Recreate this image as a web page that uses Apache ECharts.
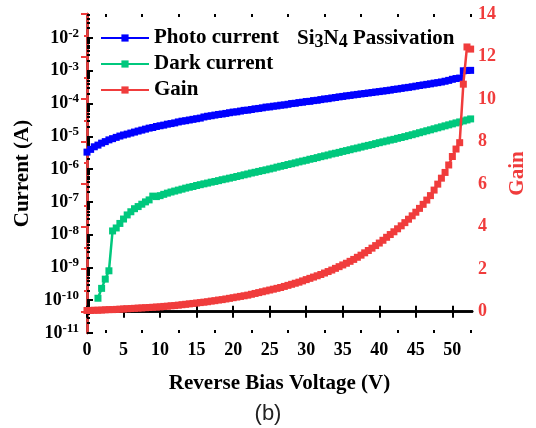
<!DOCTYPE html>
<html><head><meta charset="utf-8">
<script src="https://cdn.jsdelivr.net/npm/echarts@6/dist/echarts.min.js"></script>
<style>html,body{margin:0;padding:0;background:#fff}#c{width:536px;height:428px}</style>
</head><body><div id="c"></div>
<script>
const voltage = [0,0.5,1,1.5,2,2.5,3,3.5,4,4.5,5,5.5,6,6.5,7,7.5,8,8.5,9,9.5,10,10.5,11,11.5,12,12.5,13,13.5,14,14.5,15,15.5,16,16.5,17,17.5,18,18.5,19,19.5,20,20.5,21,21.5,22,22.5,23,23.5,24,24.5,25,25.5,26,26.5,27,27.5,28,28.5,29,29.5,30,30.5,31,31.5,32,32.5,33,33.5,34,34.5,35,35.5,36,36.5,37,37.5,38,38.5,39,39.5,40,40.5,41,41.5,42,42.5,43,43.5,44,44.5,45,45.5,46,46.5,47,47.5,48,48.5,49,49.5,50,50.5,51,51.5,52,52.5];
const photoCurrent = [
3.3e-6,4.0e-6,4.8e-6,5.4e-6,6.2e-6,6.9e-6,7.8e-6,8.5e-6,9.3e-6,1.02e-5,
1.10e-5,1.17e-5,1.26e-5,1.35e-5,1.45e-5,1.55e-5,1.66e-5,1.78e-5,1.86e-5,2.0e-5,
2.1e-5,2.2e-5,2.35e-5,2.45e-5,2.57e-5,2.75e-5,2.9e-5,3.0e-5,3.15e-5,3.3e-5,
3.45e-5,3.6e-5,3.9e-5,4.1e-5,4.25e-5,4.45e-5,4.65e-5,4.8e-5,5.0e-5,5.25e-5,
5.5e-5,5.6e-5,5.9e-5,6.2e-5,6.3e-5,6.6e-5,6.9e-5,7.1e-5,7.4e-5,7.8e-5,
7.9e-5,8.3e-5,8.5e-5,8.9e-5,9.1e-5,9.5e-5,1.0e-4,1.02e-4,1.07e-4,1.10e-4,
1.15e-4,1.17e-4,1.23e-4,1.26e-4,1.32e-4,1.38e-4,1.41e-4,1.48e-4,1.53e-4,1.6e-4,
1.65e-4,1.72e-4,1.77e-4,1.84e-4,1.9e-4,1.97e-4,2.03e-4,2.1e-4,2.17e-4,2.25e-4,
2.32e-4,2.4e-4,2.48e-4,2.57e-4,2.7e-4,2.78e-4,2.9e-4,3.02e-4,3.12e-4,3.25e-4,
3.4e-4,3.55e-4,3.7e-4,3.85e-4,4.0e-4,4.2e-4,4.35e-4,4.55e-4,4.8e-4,5.1e-4,
5.5e-4,5.8e-4,6.0e-4,1.0e-3,1.02e-3,1.03e-3];
const darkCurrent = [
null,null,null,1.15e-10,2.3e-10,4.4e-10,7.9e-10,1.3e-8,1.6e-8,2.2e-8,
3.0e-8,4.0e-8,5.0e-8,6.2e-8,7.2e-8,8.5e-8,1.0e-7,1.15e-7,1.5e-7,1.45e-7,
1.55e-7,1.7e-7,1.85e-7,2.0e-7,2.14e-7,2.29e-7,2.45e-7,2.63e-7,2.8e-7,2.95e-7,
3.16e-7,3.35e-7,3.55e-7,3.75e-7,4.0e-7,4.2e-7,4.45e-7,4.75e-7,5.0e-7,5.3e-7,
5.6e-7,5.95e-7,6.3e-7,6.7e-7,7.1e-7,7.6e-7,8.0e-7,8.5e-7,9.0e-7,9.5e-7,
1.01e-6,1.07e-6,1.15e-6,1.22e-6,1.29e-6,1.38e-6,1.46e-6,1.55e-6,1.66e-6,1.76e-6,
1.86e-6,2.0e-6,2.1e-6,2.24e-6,2.4e-6,2.54e-6,2.7e-6,2.9e-6,3.05e-6,3.24e-6,
3.47e-6,3.67e-6,3.9e-6,4.17e-6,4.4e-6,4.7e-6,5.0e-6,5.3e-6,5.6e-6,6.0e-6,
6.4e-6,6.8e-6,7.2e-6,7.7e-6,8.1e-6,8.7e-6,9.2e-6,9.8e-6,1.05e-5,1.12e-5,
1.2e-5,1.29e-5,1.38e-5,1.48e-5,1.58e-5,1.7e-5,1.82e-5,1.95e-5,2.09e-5,2.24e-5,
2.4e-5,2.57e-5,2.75e-5,2.95e-5,3.16e-5,3.4e-5];
const gain = [
0.06,0.06,0.07,0.07,0.08,0.09,0.10,0.10,0.11,0.12,
0.13,0.14,0.15,0.16,0.17,0.18,0.19,0.20,0.21,0.22,
0.23,0.25,0.26,0.28,0.29,0.31,0.33,0.35,0.37,0.39,
0.41,0.43,0.45,0.47,0.50,0.52,0.55,0.57,0.60,0.63,
0.66,0.69,0.72,0.75,0.78,0.82,0.86,0.90,0.94,0.98,
1.02,1.06,1.10,1.14,1.19,1.24,1.29,1.34,1.39,1.45,
1.51,1.57,1.63,1.69,1.75,1.82,1.89,1.96,2.04,2.12,
2.20,2.28,2.37,2.46,2.56,2.66,2.77,2.88,2.99,3.11,
3.23,3.36,3.50,3.63,3.76,3.90,4.04,4.19,4.35,4.51,
4.68,4.86,5.05,5.25,5.46,5.72,6.00,6.28,6.55,6.90,
7.30,7.65,7.95,10.7,12.45,12.35];

const seriesNames = ['Photo current', 'Dark current', 'Gain'];
const xTicks = [0,5,10,15,20,25,30,35,40,45,50];
const xMinorTicks = [2.5,7.5,12.5,17.5,22.5,27.5,32.5,37.5,42.5,47.5,52.5];
const currentTicks = [1e-11,1e-10,1e-9,1e-8,1e-7,1e-6,1e-5,1e-4,1e-3,1e-2];
const currentMinorMultipliers = [2,3,4,5,6,7,8,9];
const gainTicks = [0,2,4,6,8,10,12,14];
const gainMinorTicks = [1,3,5,7,9,11,13];

const FONT = '"Liberation Serif","Times New Roman",serif';
const RED = '#F03C3C';
const currentMinorTicks = [];
currentTicks.forEach(function (d) {
  currentMinorMultipliers.forEach(function (m) {
    const v = d * m;
    if (v < 0.054) currentMinorTicks.push(v);
  });
});
function pairs(xs, ys) {
  const out = [];
  for (let i = 0; i < xs.length; i++) if (ys[i] != null) out.push([xs[i], ys[i]]);
  return out;
}
const chart = echarts.init(document.getElementById('c'), null, {renderer: 'canvas'});
const xBase = {type: 'value', min: 0, max: 52.7, splitLine: {show: false}};
const yLogBase = {type: 'log', logBase: 10, min: 1e-11, max: 0.054, splitLine: {show: false}};
const yGainBase = {type: 'value', min: -1, max: 14, splitLine: {show: false}};
chart.setOption({
  animation: false,
  backgroundColor: '#fff',
  grid: {left: 87, right: 54, top: 14, bottom: 95, containLabel: false},
  legend: {
    data: seriesNames, orient: 'vertical', left: 100, top: 27, padding: 0,
    itemWidth: 48, itemHeight: 9, itemGap: 4,
    textStyle: {fontFamily: FONT, fontWeight: 'bold', fontSize: 21, color: '#000', lineHeight: 22}
  },
  xAxis: [
    Object.assign({}, xBase, {
      position: 'bottom',
      axisLine: {show: true, lineStyle: {color: '#000', width: 2.5}},
      axisTick: {show: true, inside: true, length: 6, lineStyle: {color: '#000', width: 2}, customValues: xTicks},
      axisLabel: {customValues: xTicks, margin: 8, fontFamily: FONT, fontWeight: 'bold', fontSize: 18, color: '#000'},
      name: 'Reverse Bias Voltage (V)', nameLocation: 'middle', nameGap: 40,
      nameTextStyle: {fontFamily: FONT, fontWeight: 'bold', fontSize: 21, color: '#000'}
    }),
    Object.assign({}, xBase, {
      position: 'top',
      axisLine: {show: true, lineStyle: {color: '#000', width: 2.5}},
      axisTick: {show: true, inside: true, length: 6, lineStyle: {color: '#000', width: 2}, customValues: xTicks},
      axisLabel: {show: false}
    }),
    Object.assign({}, xBase, {
      position: 'bottom',
      axisLine: {show: false},
      axisTick: {show: true, inside: true, length: 3, lineStyle: {color: '#000', width: 2}, customValues: xMinorTicks},
      axisLabel: {show: false}
    }),
    Object.assign({}, xBase, {
      position: 'top',
      axisLine: {show: false},
      axisTick: {show: true, inside: true, length: 3, lineStyle: {color: '#000', width: 2}, customValues: xMinorTicks},
      axisLabel: {show: false}
    })
  ],
  yAxis: [
    Object.assign({}, yLogBase, {
      position: 'left',
      axisLine: {show: true, lineStyle: {color: '#000', width: 2.5}},
      axisTick: {show: true, inside: true, length: 6, lineStyle: {color: '#000', width: 2}, customValues: currentTicks},
      axisLabel: {
        customValues: currentTicks, margin: 8,
        formatter: function (v) { return '{b|10}{s|' + Math.round(Math.log10(v)) + '}'; },
        rich: {
          b: {fontFamily: FONT, fontWeight: 'bold', fontSize: 18, color: '#000', lineHeight: 20},
          s: {fontFamily: FONT, fontWeight: 'bold', fontSize: 13, color: '#000', lineHeight: 20, padding: [0, 0, 9, 0]}
        }
      },
      name: 'Current (A)', nameLocation: 'middle', nameGap: 52, nameRotate: 90,
      nameTextStyle: {fontFamily: FONT, fontWeight: 'bold', fontSize: 21, color: '#000'}
    }),
    Object.assign({}, yGainBase, {
      position: 'right',
      axisLine: {show: true, lineStyle: {color: RED, width: 2.5}},
      axisTick: {show: true, inside: true, length: 6, lineStyle: {color: RED, width: 2}, customValues: gainTicks},
      axisLabel: {customValues: gainTicks, margin: 6, fontFamily: FONT, fontWeight: 'bold', fontSize: 18, color: RED},
      name: 'Gain', nameLocation: 'middle', nameGap: 26, nameRotate: 90,
      nameTextStyle: {fontFamily: FONT, fontWeight: 'bold', fontSize: 21, color: RED}
    }),
    Object.assign({}, yLogBase, {
      position: 'left',
      axisLine: {show: false},
      axisTick: {show: true, inside: true, length: 3, lineStyle: {color: '#000', width: 2}, customValues: currentMinorTicks},
      axisLabel: {show: false}
    }),
    Object.assign({}, yGainBase, {
      position: 'right',
      axisLine: {show: false},
      axisTick: {show: true, inside: true, length: 3, lineStyle: {color: RED, width: 2}, customValues: gainMinorTicks},
      axisLabel: {show: false}
    })
  ],
  series: [
    {name: seriesNames[0], type: 'line', xAxisIndex: 0, yAxisIndex: 0, data: pairs(voltage, photoCurrent),
     symbol: 'rect', symbolSize: 7, itemStyle: {color: '#0000FF'}, lineStyle: {color: '#0000FF', width: 2.5}, z: 3},
    {name: seriesNames[1], type: 'line', xAxisIndex: 0, yAxisIndex: 0, data: pairs(voltage, darkCurrent),
     symbol: 'rect', symbolSize: 7, itemStyle: {color: '#00C87D'}, lineStyle: {color: '#00C87D', width: 2.5}, z: 3},
    {name: seriesNames[2], type: 'line', xAxisIndex: 0, yAxisIndex: 1, data: pairs(voltage, gain),
     symbol: 'rect', symbolSize: 7, itemStyle: {color: RED}, lineStyle: {color: RED, width: 2.5}, z: 4}
  ],
  graphic: [
    {type: 'text', left: 297, top: 26, style: {
      text: '{m|Si}{s|3}{m|N}{s|4}{m| Passivation}',
      rich: {
        m: {fontFamily: FONT, fontWeight: 'bold', fontSize: 21, fill: '#000', lineHeight: 24},
        s: {fontFamily: FONT, fontWeight: 'bold', fontSize: 18, fill: '#000', lineHeight: 24, padding: [7, 0, 0, 0]}
      }
    }},
    {type: 'text', left: 'center', top: 403, style: {
      text: '(b)', fontFamily: '"Liberation Sans",Arial,sans-serif', fontSize: 22, fill: '#222'
    }}
  ]
});
</script>
</body></html>
